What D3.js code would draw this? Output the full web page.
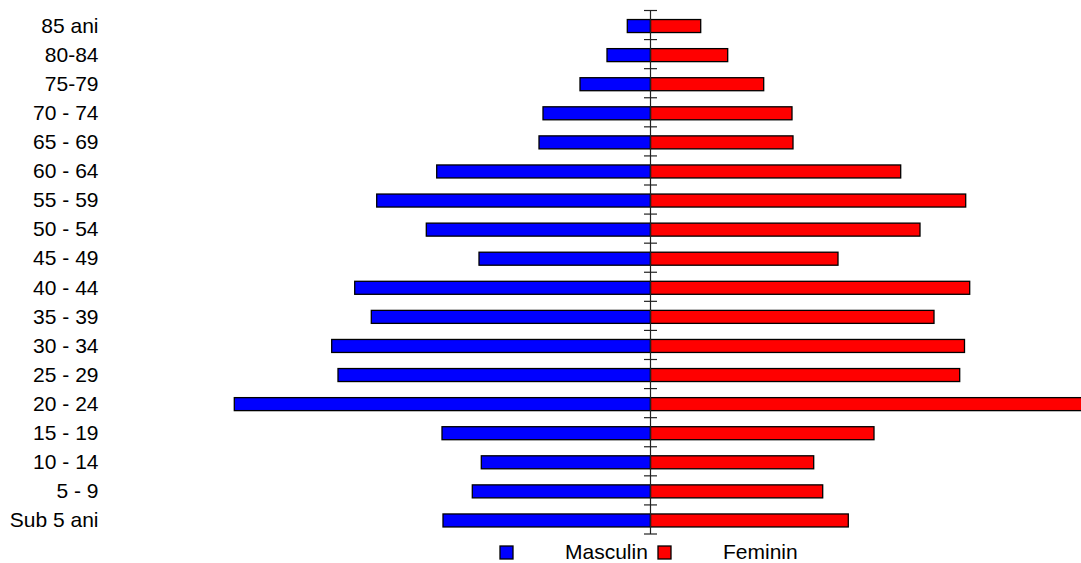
<!DOCTYPE html>
<html>
<head>
<meta charset="utf-8">
<script src="https://cdn.jsdelivr.net/npm/d3@7"></script>
<style>
  html, body { margin: 0; padding: 0; background: #fff; }
  svg { display: block; }
  text { font-family: "Liberation Sans", Arial, sans-serif; fill: #000; }
</style>
</head>
<body>
<svg id="chart" width="1081" height="563"></svg>
<script>
// Age groups, top to bottom
const categories = ["85 ani","80-84","75-79","70 - 74","65 - 69","60 - 64","55 - 59","50 - 54","45 - 49","40 - 44","35 - 39","30 - 34","25 - 29","20 - 24","15 - 19","10 - 14","5 - 9","Sub 5 ani"];
// Population values
const masculin = [232, 435, 705, 1075, 1115, 2138, 2738, 2242, 1715, 2958, 2792, 3188, 3125, 4162, 2085, 1692, 1782, 2075];
const feminin  = [502, 772, 1132, 1415, 1425, 2502, 3152, 2695, 1875, 3192, 2835, 3140, 3092, 4500, 2235, 1632, 1722, 1978];
const seriesNames = ["Masculin", "Feminin"];
const seriesColors = ["#0000ff", "#ff0000"];

const svg = d3.select("#chart");

const x = d3.scaleLinear().domain([-4200, 4200]).range([230.5, 1070.5]);
const y = d3.scaleBand().domain(categories).range([10.5, 534])
  .paddingInner(0.553).paddingOuter(0.2765);

const rows = categories.map((c, i) => ({ c, m: masculin[i], f: feminin[i] }));

// Male bars (left)
svg.append("g").selectAll("rect").data(rows).join("rect")
  .attr("x", d => x(-d.m))
  .attr("y", d => y(d.c) + 1)
  .attr("width", d => x(0) - x(-d.m))
  .attr("height", y.bandwidth())
  .attr("fill", seriesColors[0])
  .attr("stroke", "#000").attr("stroke-width", 1.3);

// Female bars (right)
svg.append("g").selectAll("rect").data(rows).join("rect")
  .attr("x", x(0))
  .attr("y", d => y(d.c) + 1)
  .attr("width", d => x(d.f) - x(0))
  .attr("height", y.bandwidth())
  .attr("fill", seriesColors[1])
  .attr("stroke", "#000").attr("stroke-width", 1.3);

// Central axis with ticks at category boundaries
const half = (y.step() - y.bandwidth()) / 2;
const bounds = categories.map(c => y(c) - half);
bounds.push(y(categories[categories.length - 1]) + y.bandwidth() + half);
const ax = svg.append("g").attr("stroke", "#222").attr("stroke-width", 1.2);
ax.append("line").attr("x1", x(0)).attr("x2", x(0))
  .attr("y1", bounds[0]).attr("y2", bounds[bounds.length - 1]);
ax.selectAll("line.tick").data(bounds).join("line").attr("class", "tick")
  .attr("x1", x(0) - 6.5).attr("x2", x(0) + 6.5)
  .attr("y1", d => d).attr("y2", d => d);

// Category labels
const yAxis = d3.axisLeft(y).tickSize(0).tickPadding(0);
const gl = svg.append("g").attr("transform", "translate(98.5,1)").call(yAxis);
gl.select(".domain").remove();
gl.selectAll("text").attr("font-size", "21px")
  .attr("font-family", "'Liberation Sans', Arial, sans-serif").attr("fill", "#000");

// Legend
const legend = svg.append("g");
const legX = [500, 658];
const legTextX = [565, 723];
seriesNames.forEach((n, i) => {
  legend.append("rect").attr("x", legX[i]).attr("y", 546).attr("width", 13).attr("height", 13)
    .attr("fill", seriesColors[i]).attr("stroke", "#000").attr("stroke-width", 1.3);
  legend.append("text").attr("x", legTextX[i]).attr("y", 559).attr("font-size", "21px").text(n);
});
</script>
</body>
</html>
